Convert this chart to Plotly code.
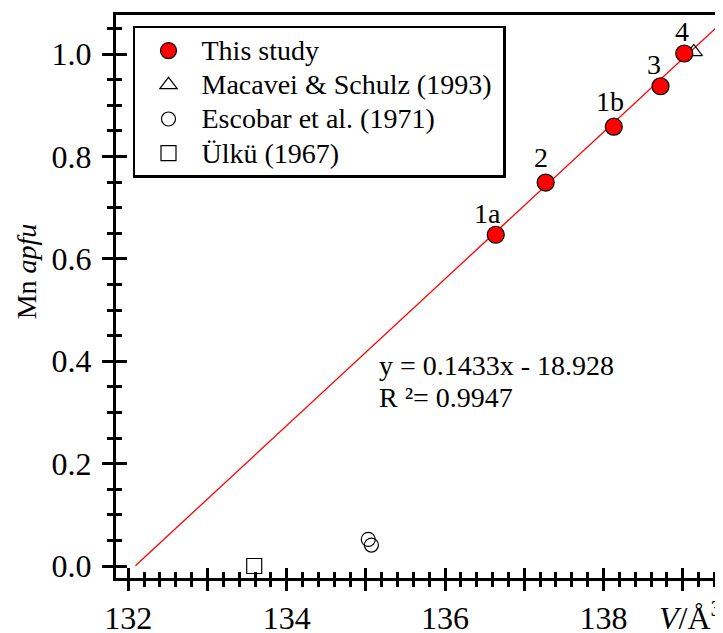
import plotly.graph_objects as go

# ---- data ----
study_v = [136.64, 137.27, 138.13, 138.72, 139.02]
study_mn = [0.647, 0.749, 0.858, 0.937, 1.001]
study_labels = ["1a", "2", "1b", "3", "4"]
label_dx = [-8, -5, -4, -7, -2]
label_dy = [21, 25, 25, 22, 22]

macavei_v = [139.14]
macavei_mn = [1.004]

escobar_v = [135.03, 135.07]
escobar_mn = [0.052, 0.041]

ulku_v = [133.59]
ulku_mn = [0.0]

fit_slope = 0.1433
fit_intercept = -18.928
fit_v = [132.09, 139.41]
fit_mn = [fit_slope * v + fit_intercept for v in fit_v]

legend_names = ["This study", "Macavei & Schulz (1993)",
                "Escobar et al. (1971)", "Ülkü (1967)"]
eq_lines = ["y = 0.1433x - 18.928", "R ²= 0.9947"]

x_major = [132, 133, 134, 135, 136, 137, 138, 139]
x_text = ["132", " ", "134", " ", "136", " ", "138", " "]
y_major = [0.0, 0.2, 0.4, 0.6, 0.8, 1.0]
y_text = ["0.0", "0.2", "0.4", "0.6", "0.8", "1.0"]

XR = [131.845, 139.509]
YR = [-0.0234, 1.0762]
FONT = "Liberation Serif"


def lg(name):
    return '<span style="font-size:28px">' + name + '</span>'


fig = go.Figure()

fig.add_trace(go.Scatter(x=fit_v, y=fit_mn, mode="lines",
                         line=dict(color="red", width=1.3),
                         showlegend=False, hoverinfo="skip"))
fig.add_trace(go.Scatter(x=macavei_v, y=macavei_mn, mode="markers",
                         name=lg(legend_names[1]) + "\u00a0", legendrank=2,
                         marker=dict(symbol="triangle-up-open", size=15,
                                     color="black", line=dict(width=1.2))))
fig.add_trace(go.Scatter(x=escobar_v, y=escobar_mn, mode="markers",
                         name=lg(legend_names[2]), legendrank=3,
                         marker=dict(symbol="circle-open", size=14,
                                     color="black", line=dict(width=1.2))))
fig.add_trace(go.Scatter(x=ulku_v, y=ulku_mn, mode="markers",
                         name=lg(legend_names[3]), legendrank=4,
                         marker=dict(symbol="square-open", size=15,
                                     color="black", line=dict(width=1.2))))
fig.add_trace(go.Scatter(x=study_v, y=study_mn, mode="markers",
                         name=lg(legend_names[0]), legendrank=1,
                         marker=dict(symbol="circle", size=17, color="red",
                                     line=dict(color="black", width=1.2))))
# dummy trace for the overlay axes (inner half of the crossing ticks)
fig.add_trace(go.Scatter(x=[], y=[], xaxis="x2", yaxis="y2",
                         showlegend=False, hoverinfo="skip"))

for v, m, t, dx, dy in zip(study_v, study_mn, study_labels, label_dx, label_dy):
    fig.add_annotation(x=v, y=m, text=t, showarrow=False,
                       xshift=dx, yshift=dy,
                       font=dict(family=FONT, size=28, color="black"))

for line, yy in zip(eq_lines, [0.3926, 0.330]):
    fig.add_annotation(x=0.43, y=yy, xref="paper", yref="y", text=line,
                       showarrow=False, xanchor="left", yanchor="middle",
                       font=dict(family=FONT, size=28, color="black"))

fig.add_annotation(x=-0.148, y=0.545, xref="paper", yref="paper",
                   text="Mn <i>apfu</i>", textangle=-90, showarrow=False,
                   xanchor="center", yanchor="middle",
                   font=dict(family=FONT, size=28, color="black"))

fig.add_annotation(x=0.892, y=-0.068, xref="paper", yref="paper",
                   text="<i>V</i>/Å<sup>3</sup>", showarrow=False,
                   xanchor="left", yanchor="middle",
                   font=dict(family=FONT, size=32, color="black"))

common = dict(showgrid=False, zeroline=False, automargin=False)
fig.update_layout(
    width=715, height=625,
    margin=dict(l=108, r=0, t=7, b=55, autoexpand=False),
    paper_bgcolor="white", plot_bgcolor="white",
    font=dict(family=FONT, size=32, color="black"),
    xaxis=dict(range=XR, tickmode="array", tickvals=x_major, ticktext=x_text,
               ticks="outside", ticklen=10, tickwidth=2.5, tickcolor="black",
               ticklabelstandoff=0,
               showline=True, linewidth=3, linecolor="black", mirror=True,
               minor=dict(tick0=132, dtick=0.2, ticks="outside", ticklen=6,
                          tickwidth=2.5, tickcolor="black"),
               tickfont=dict(family=FONT, size=32, color="black"), **common),
    yaxis=dict(range=YR, tickmode="array", tickvals=y_major, ticktext=y_text,
               ticks="outside", ticklen=11, tickwidth=2.5, tickcolor="black",
               ticklabelstandoff=4,
               showline=True, linewidth=3, linecolor="black",
               minor=dict(tick0=0, dtick=0.05, ticks="outside", ticklen=6,
                          tickwidth=2.5, tickcolor="black"),
               tickfont=dict(family=FONT, size=32, color="black"), **common),
    xaxis2=dict(range=XR, overlaying="x", anchor="y2", side="bottom",
                tickmode="array", tickvals=x_major,
                ticks="inside", ticklen=10, tickwidth=2.5, tickcolor="black",
                showticklabels=False, showline=False,
                minor=dict(tick0=132, dtick=0.2, ticks="inside", ticklen=6,
                           tickwidth=2.5, tickcolor="black"), **common),
    yaxis2=dict(range=YR, overlaying="y", anchor="x2", side="left",
                tickmode="array", tickvals=y_major,
                ticks="inside", ticklen=11, tickwidth=2.5, tickcolor="black",
                showticklabels=False, showline=False,
                minor=dict(tick0=0, dtick=0.05, ticks="inside", ticklen=6,
                           tickwidth=2.5, tickcolor="black"), **common),
    legend=dict(x=0.028, y=0.9805, xanchor="left", yanchor="top",
                bgcolor="white", bordercolor="black", borderwidth=2.5,
                font=dict(family=FONT, size=24, color="black"),
                itemsizing="trace", itemwidth=56, traceorder="normal"),
    showlegend=True,
)

fig.write_html("out.html")
